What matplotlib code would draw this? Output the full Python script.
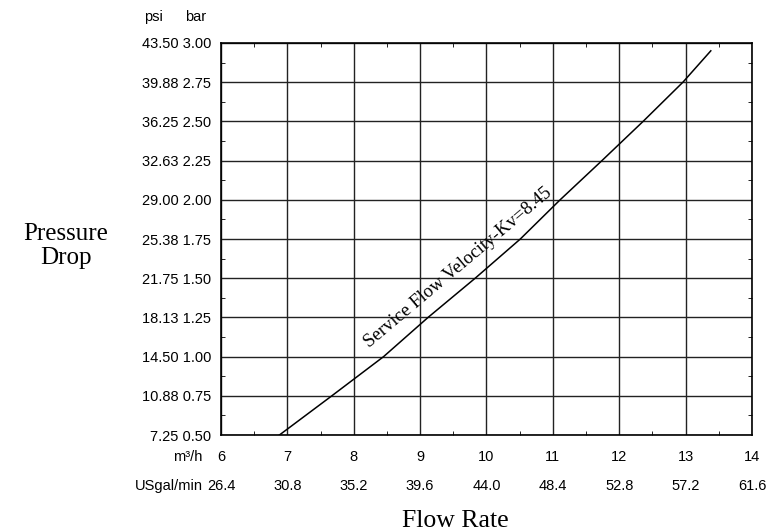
import numpy as np
import matplotlib
matplotlib.use("Agg")
import matplotlib.pyplot as plt
import matplotlib.transforms as mtransforms
from matplotlib.ticker import MultipleLocator

# axis values
flow_m3h = [6, 7, 8, 9, 10, 11, 12, 13, 14]
flow_gpm = ["26.4", "30.8", "35.2", "39.6", "44.0", "48.4", "52.8", "57.2", "61.6"]
drop_bar = [0.50, 0.75, 1.00, 1.25, 1.50, 1.75, 2.00, 2.25, 2.50, 2.75, 3.00]
drop_psi = ["7.25", "10.88", "14.50", "18.13", "21.75", "25.38", "29.00",
            "32.63", "36.25", "39.88", "43.50"]

# curve
curve_x = [6.88, 7.67, 8.45, 9.12, 9.83, 10.51, 11.11, 11.74, 12.36, 12.96, 13.38]
curve_y = [0.50, 0.75, 1.00, 1.25, 1.50, 1.75, 2.00, 2.25, 2.50, 2.75, 2.95]
curve_label = "Service Flow Velocity-Kv=8.45"

sans = "Liberation Sans"
serif = "Liberation Serif"
fs = 10.5

fig = plt.figure(figsize=(7.76, 5.32), dpi=100)
ax = fig.add_axes([0.2848, 0.1823, 0.6842, 0.7369])

ax.plot(curve_x, curve_y, color="black", lw=1.1)
ax.text(9.58, 1.565, curve_label, rotation=40, ha="center", va="center",
        family=serif, fontsize=13.5, rotation_mode="anchor")

ax.set_xlim(6, 14)
ax.set_ylim(0.5, 3.0)
ax.set_xticks(flow_m3h)
ax.set_yticks(drop_bar)
ax.xaxis.set_minor_locator(MultipleLocator(0.5))
ax.yaxis.set_minor_locator(MultipleLocator(0.125))
ax.grid(True, which="major", color="#222222", lw=1.0)
ax.tick_params(which="both", direction="in", top=True, right=True)
ax.tick_params(which="major", length=0)
ax.tick_params(axis="y", which="major", pad=7)
ax.tick_params(axis="x", which="major", pad=11)
ax.tick_params(which="minor", length=3, width=0.6)
for s in ax.spines.values():
    s.set_linewidth(1.2)

ax.set_yticklabels([f"{p} {b:.2f}" for p, b in zip(drop_psi, drop_bar)],
                   family=sans, fontsize=fs)
ax.set_xticklabels([str(v) for v in flow_m3h], family=sans, fontsize=fs)

# second x row (USgal/min)
trans = mtransforms.blended_transform_factory(ax.transData, fig.transFigure)
for x, g in zip(flow_m3h, flow_gpm):
    ax.text(x, 1 - 486 / 532, g, transform=trans, ha="center", va="center",
            family=sans, fontsize=fs)
fig.text(203 / 776, 1 - 486 / 532, "USgal/min", ha="right", va="center",
         family=sans, fontsize=fs)
fig.text(202 / 776, 1 - 457 / 532, "m\u00b3/h", ha="right", va="center",
         family=sans, fontsize=fs)

fig.text(153 / 776, 1 - 17 / 532, "psi", ha="center", va="center",
         family=sans, fontsize=fs)
fig.text(196 / 776, 1 - 17 / 532, "bar", ha="center", va="center",
         family=sans, fontsize=fs)

fig.text(66 / 776, 1 - 246 / 532, "Pressure\nDrop", ha="center", va="center",
         family=serif, fontsize=18, linespacing=1.15)
fig.text(455 / 776, 1 - 521 / 532, "Flow Rate", ha="center", va="center",
         family=serif, fontsize=18.5)

fig.savefig("out.png", dpi=100)
